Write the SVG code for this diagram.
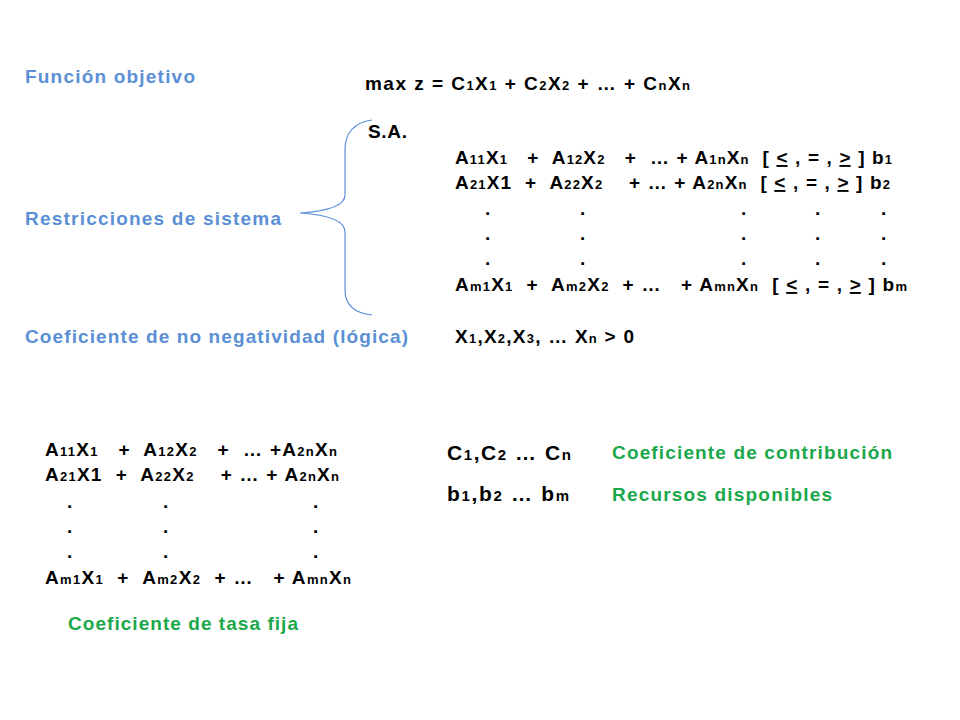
<svg xmlns="http://www.w3.org/2000/svg" width="960" height="720" viewBox="0 0 960 720">
<style>
text{font-family:"Liberation Sans",Arial,sans-serif;font-weight:bold;font-size:19px;fill:#000}
.s{font-size:13px}
.blue{fill:#5b8fd6}
.green{fill:#1aa84a}
.big{font-size:21px}
.bs{font-size:15px}
.u{text-decoration:underline}
</style>
<rect width="960" height="720" fill="#fff"/>
<g id="labels">
<text class="blue" x="25" y="83" textLength="170" lengthAdjust="spacing">Función objetivo</text>
<text class="blue" x="25" y="225" textLength="256" lengthAdjust="spacing">Restricciones de sistema</text>
<text class="blue" x="25" y="343" textLength="383" lengthAdjust="spacing">Coeficiente de no negatividad (lógica)</text>
</g>
<g id="connectors">
<path d="M372,120 Q345,124 345,150 L345,195 Q345,210 300,213 Q345,216 345,232 L345,290 Q345,312 372,315" fill="none" stroke="#5b8fd6" stroke-width="1.2"/>
</g>
<g id="model">
<text x="365" y="90" textLength="325" lengthAdjust="spacing">max z = C<tspan class="s">1</tspan>X<tspan class="s">1</tspan> + C<tspan class="s">2</tspan>X<tspan class="s">2</tspan> + … + C<tspan class="s">n</tspan>X<tspan class="s">n</tspan></text>
<text x="368" y="138" textLength="39" lengthAdjust="spacing">S.A.</text>
<text x="455" y="164" xml:space="preserve" textLength="437" lengthAdjust="spacing">A<tspan class="s">11</tspan>X<tspan class="s">1</tspan>   +  A<tspan class="s">12</tspan>X<tspan class="s">2</tspan>   +  … + A<tspan class="s">1n</tspan>X<tspan class="s">n</tspan>  [ <tspan class="u">&lt;</tspan> , = , <tspan class="u">&gt;</tspan> ] b<tspan class="s">1</tspan></text>
<text x="455" y="189" xml:space="preserve" textLength="435" lengthAdjust="spacing">A<tspan class="s">21</tspan>X1  +  A<tspan class="s">22</tspan>X<tspan class="s">2</tspan>    + … + A<tspan class="s">2n</tspan>X<tspan class="s">n</tspan>  [ <tspan class="u">&lt;</tspan> , = , <tspan class="u">&gt;</tspan> ] b<tspan class="s">2</tspan></text>
<g>
<text x="485" y="215">.</text><text x="580" y="215">.</text><text x="741" y="215">.</text><text x="815" y="215">.</text><text x="881" y="215">.</text>
<text x="485" y="240">.</text><text x="580" y="240">.</text><text x="741" y="240">.</text><text x="815" y="240">.</text><text x="881" y="240">.</text>
<text x="485" y="265">.</text><text x="580" y="265">.</text><text x="741" y="265">.</text><text x="815" y="265">.</text><text x="881" y="265">.</text>
</g>
<text x="455" y="291" xml:space="preserve" textLength="452" lengthAdjust="spacing">A<tspan class="s">m1</tspan>X<tspan class="s">1</tspan>  +  A<tspan class="s">m2</tspan>X<tspan class="s">2</tspan>  + …   + A<tspan class="s">mn</tspan>X<tspan class="s">n</tspan>  [ <tspan class="u">&lt;</tspan> , = , <tspan class="u">&gt;</tspan> ] b<tspan class="s">m</tspan></text>
<text x="455" y="343" textLength="179" lengthAdjust="spacing">X<tspan class="s">1</tspan>,X<tspan class="s">2</tspan>,X<tspan class="s">3</tspan>, … X<tspan class="s">n</tspan> &gt; 0</text>
</g>
<g id="matrix">
<text x="45" y="456" xml:space="preserve" textLength="292" lengthAdjust="spacing">A<tspan class="s">11</tspan>X<tspan class="s">1</tspan>   +  A<tspan class="s">12</tspan>X<tspan class="s">2</tspan>   +  … +A<tspan class="s">2n</tspan>X<tspan class="s">n</tspan></text>
<text x="45" y="481" xml:space="preserve" textLength="294" lengthAdjust="spacing">A<tspan class="s">21</tspan>X1  +  A<tspan class="s">22</tspan>X<tspan class="s">2</tspan>    + … + A<tspan class="s">2n</tspan>X<tspan class="s">n</tspan></text>
<text x="67" y="508">.</text><text x="163" y="508">.</text><text x="313" y="508">.</text>
<text x="67" y="533">.</text><text x="163" y="533">.</text><text x="313" y="533">.</text>
<text x="67" y="558">.</text><text x="163" y="558">.</text><text x="313" y="558">.</text>
<text x="45" y="584" xml:space="preserve" textLength="306" lengthAdjust="spacing">A<tspan class="s">m1</tspan>X<tspan class="s">1</tspan>  +  A<tspan class="s">m2</tspan>X<tspan class="s">2</tspan>  + …   + A<tspan class="s">mn</tspan>X<tspan class="s">n</tspan></text>
<text class="green" x="68" y="630" textLength="230" lengthAdjust="spacing">Coeficiente de tasa fija</text>
</g>
<g id="coefs">
<text class="big" x="447" y="460" textLength="124" lengthAdjust="spacing">C<tspan class="bs">1</tspan>,C<tspan class="bs">2</tspan> … C<tspan class="bs">n</tspan></text>
<text class="big" x="447" y="501" textLength="122" lengthAdjust="spacing">b<tspan class="bs">1</tspan>,b<tspan class="bs">2</tspan> … b<tspan class="bs">m</tspan></text>
<text class="green" x="612" y="459" textLength="280" lengthAdjust="spacing">Coeficiente de contribución</text>
<text class="green" x="612" y="501" textLength="220" lengthAdjust="spacing">Recursos disponibles</text>
</g>
</svg>
